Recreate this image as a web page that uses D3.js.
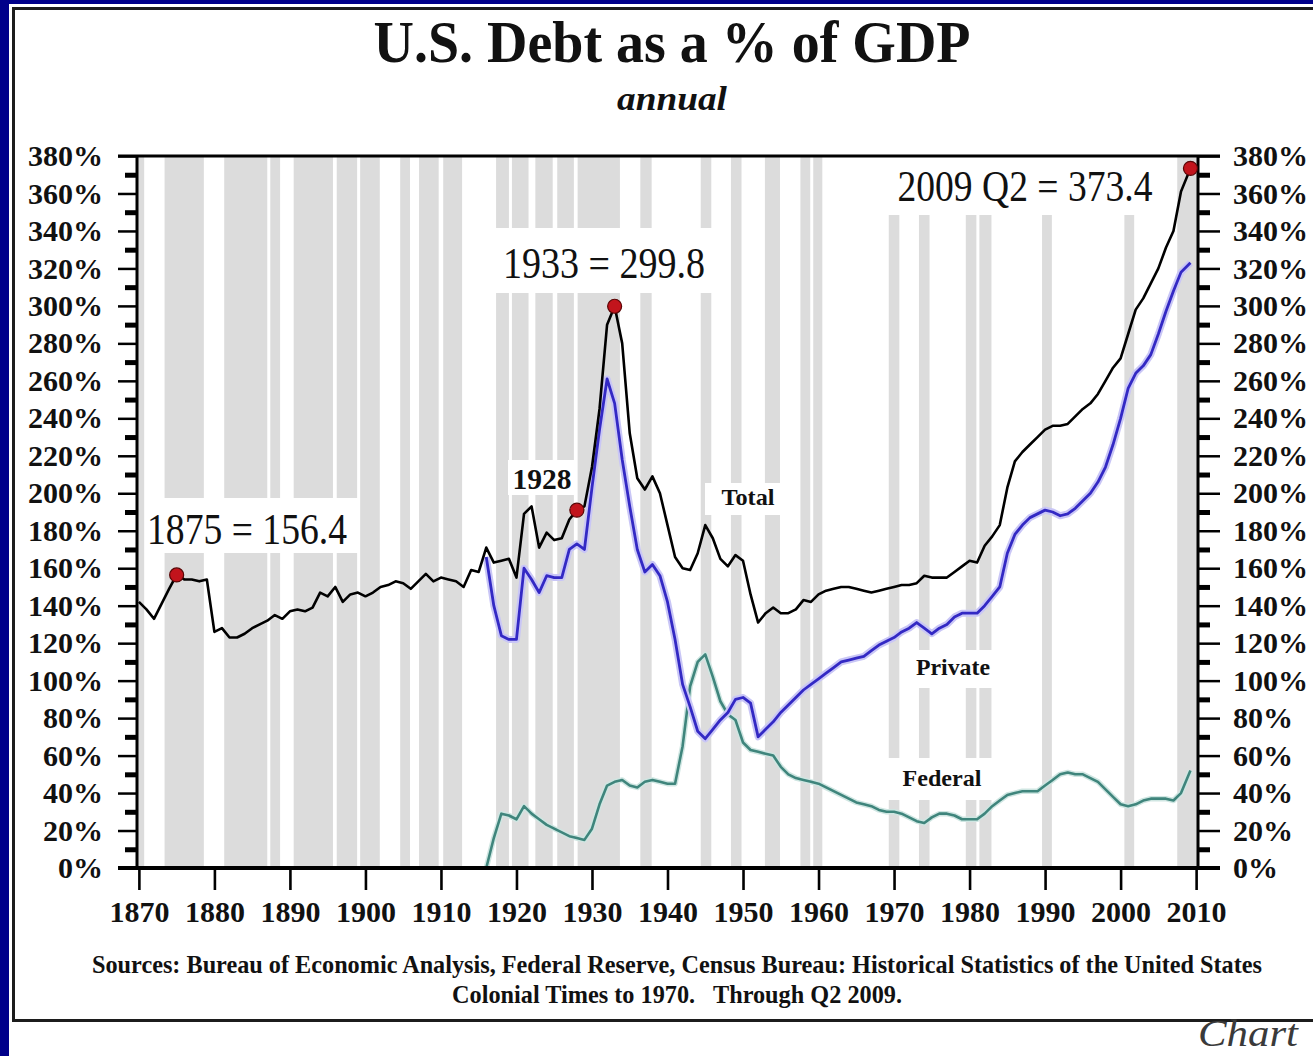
<!DOCTYPE html>
<html>
<head>
<meta charset="utf-8">
<script src="https://cdn.jsdelivr.net/npm/d3@7"></script>
<style>
  html, body { margin: 0; padding: 0; background: #fff; overflow: hidden; }
  svg { display: block; }
  text { font-family: "Liberation Serif", "Times New Roman", serif; fill: #111; }
</style>
</head>
<body>
<svg id="chart"></svg>
<script>
// ---- data (% of GDP) ----
var totalStart = 1870;
var totalValues = [
  142, 138, 133, 141, 149, 156.4, 154, 154, 153, 154,   // 1870s
  126, 128, 123, 123, 125, 128, 130, 132, 135, 133,     // 1880s
  137, 138, 137, 139, 147, 145, 150, 142, 146, 147,     // 1890s
  145, 147, 150, 151, 153, 152, 149, 153, 157, 153,     // 1900s
  155, 154, 153, 150, 159, 158, 171, 163, 164, 165,     // 1910s
  155, 189, 193, 171, 179, 175, 176, 186, 191, 193,     // 1920s
  214, 245, 290, 299.8, 280, 232, 208, 202, 209, 200,   // 1930s
  183, 166, 160, 159, 168, 183, 176, 165, 161, 167,     // 1940s
  164, 146, 131, 136, 139, 136, 136, 138, 143, 142,     // 1950s
  146, 148, 149, 150, 150, 149, 148, 147, 148, 149,     // 1960s
  150, 151, 151, 152, 156, 155, 155, 155, 158, 161,     // 1970s
  164, 163, 172, 177, 183, 203, 217, 222, 226, 230,     // 1980s
  234, 236, 236, 237, 241, 245, 248, 253, 260, 267,     // 1990s
  272, 285, 298, 304, 312, 320, 331, 340, 361           // 2000-2008
];
var privateStart = 1916;
var privateValues = [
  166, 140, 124, 122,                                   // 1916-1919
  122, 160, 154, 147, 156, 155, 155, 170, 173, 170,     // 1920s
  203, 234, 261, 248, 218, 193, 170, 158, 162, 156,     // 1930s
  142, 122, 98, 86, 73, 69, 74, 79, 83, 90,             // 1940s
  91, 88, 70, 74, 78, 83, 87, 91, 95, 98,               // 1950s
  101, 104, 107, 110, 111, 112, 113, 116, 119, 121,     // 1960s
  123, 126, 128, 131, 128, 125, 128, 130, 134, 136,     // 1970s
  136, 136, 140, 145, 150, 168, 178, 183, 187, 189,     // 1980s
  191, 190, 188, 189, 192, 196, 200, 206, 214, 226,     // 1990s
  240, 256, 264, 268, 274, 285, 297, 308, 318           // 2000-2008
];
var federalStart = 1916;
var federalValues = [
  0, 16, 29, 28,                                        // 1916-1919
  26, 33, 29, 26, 23, 21, 19, 17, 16, 15,               // 1920s
  21, 34, 44, 46, 47, 44, 43, 46, 47, 46,               // 1930s
  45, 45, 65, 97, 110, 114, 102, 89, 82, 79,            // 1940s
  67, 63, 62, 61, 60, 54, 50, 48, 47, 46,               // 1950s
  45, 43, 41, 39, 37, 35, 34, 33, 31, 30,               // 1960s
  30, 29, 27, 25, 24, 27, 29, 29, 28, 26,               // 1970s
  26, 26, 29, 33, 36, 39, 40, 41, 41, 41,               // 1980s
  44, 47, 50, 51, 50, 50, 48, 46, 42, 38,               // 1990s
  34, 33, 34, 36, 37, 37, 37, 36, 40                    // 2000-2008
];
// last observation is 2009 Q2
var lastPeriod = 2009.25;
var lastTotal = 373.4, lastPrivate = 323, lastFederal = 52;

// recessions (shaded years)
var recessionStart = [1869.7, 1873.4, 1881.3, 1887.4, 1890.5, 1896.2, 1899.3, 1904.6, 1907.1, 1910.3,
  1917.3, 1919.4, 1922.5, 1925.4, 1928.1, 1936.4, 1944.4, 1948.4, 1952.9, 1957.6, 1959.3,
  1969.3, 1973.3, 1979.5, 1981.3, 1989.6, 2000.5, 2007.5];
var recessionEnd = [1870.7, 1878.6, 1887.0, 1888.7, 1895.7, 1898.9, 1901.9, 1905.9, 1909.7, 1912.8,
  1919.0, 1921.6, 1924.8, 1927.6, 1933.7, 1937.9, 1945.8, 1949.8, 1954.9, 1958.9, 1960.5,
  1970.7, 1974.7, 1980.9, 1982.9, 1990.9, 2001.8, 2010.25];

// highlighted points on the total line
var highlightYears = [1875, 1928, 1933, 2009.25];

var yTicks = [0, 20, 40, 60, 80, 100, 120, 140, 160, 180, 200, 220, 240, 260, 280, 300, 320, 340, 360, 380];
var xTicks = [1870, 1880, 1890, 1900, 1910, 1920, 1930, 1940, 1950, 1960, 1970, 1980, 1990, 2000, 2010];

// build [year, value] series
function series(start, values, last) {
  var pts = values.map(function(v, i) { return [start + i, v]; });
  pts.push([lastPeriod, last]);
  return pts;
}
var totalData = series(totalStart, totalValues, lastTotal);
var privateData = series(privateStart, privateValues, lastPrivate);
var federalData = series(federalStart, federalValues, lastFederal);

// ---- layout ----
var svgWidth = 1313, svgHeight = 1056;
var plot = { left: 137, right: 1198, top: 156, bottom: 868 };

var svg = d3.select("#chart")
  .attr("width", svgWidth)
  .attr("height", svgHeight);

// page frame
svg.append("rect").attr("width", svgWidth).attr("height", svgHeight).attr("fill", "#fff");
svg.append("rect").attr("x", 0).attr("y", 0).attr("width", 9).attr("height", svgHeight).attr("fill", "#00008a");
svg.append("rect").attr("x", 0).attr("y", 0).attr("width", svgWidth).attr("height", 4).attr("fill", "#00008a");
svg.append("rect")
  .attr("x", 13.5).attr("y", 8.5)
  .attr("width", svgWidth + 40).attr("height", 1012)
  .attr("fill", "#fff")
  .attr("stroke", "#1c1c1c")
  .attr("stroke-width", 3);

var x = d3.scaleLinear().domain([1869.75, 2010.25]).range([plot.left, plot.right]);
var y = d3.scaleLinear().domain([0, 380]).range([plot.bottom, plot.top]);

// recession shading
svg.append("g").selectAll("rect")
  .data(d3.zip(recessionStart, recessionEnd))
  .join("rect")
  .attr("x", function(d) { return x(d[0]); })
  .attr("width", function(d) { return x(d[1]) - x(d[0]); })
  .attr("y", plot.top)
  .attr("height", plot.bottom - plot.top)
  .attr("fill", "#dcdcdc");

// annotation boxes (white backing over the shading)
var notes = [
  { text: "1875 = 156.4",    box: [146, 498, 214, 55], cx: 247,  cy: 528, size: 45, len: 200, bold: false },
  { text: "1933 = 299.8",    box: [493, 228, 227, 65], cx: 604,  cy: 262, size: 45, len: 202, bold: false },
  { text: "2009 Q2 = 373.4", box: [880, 157, 295, 58], cx: 1025, cy: 186, size: 44, len: 255, bold: false },
  { text: "1928",            box: [508, 460, 68, 35],  cx: 542,  cy: 478, size: 30, len: 59,  bold: true },
  { text: "Total",           box: [705, 483, 77, 32],  cx: 748,  cy: 497, size: 24, len: 53,  bold: true },
  { text: "Private",         box: [908, 650, 88, 38],  cx: 953,  cy: 667, size: 24, len: 74,  bold: true },
  { text: "Federal",         box: [888, 758, 112, 42], cx: 942,  cy: 778, size: 24, len: 79,  bold: true }
];
svg.append("g").selectAll("rect")
  .data(notes)
  .join("rect")
  .attr("x", function(d) { return d.box[0]; })
  .attr("y", function(d) { return d.box[1]; })
  .attr("width", function(d) { return d.box[2]; })
  .attr("height", function(d) { return d.box[3]; })
  .attr("fill", "#fff");

// lines
var line = d3.line()
  .x(function(d) { return x(d[0]); })
  .y(function(d) { return y(d[1]); });

var lines = svg.append("g").attr("fill", "none").attr("stroke-linejoin", "round");
lines.append("path").datum(federalData).attr("d", line)
  .attr("stroke", "#cfe6e2").attr("stroke-width", 5.5);
lines.append("path").datum(federalData).attr("d", line)
  .attr("stroke", "#3f857c").attr("stroke-width", 2.6);
lines.append("path").datum(privateData).attr("d", line)
  .attr("stroke", "#c9c6f6").attr("stroke-width", 7);
lines.append("path").datum(privateData).attr("d", line)
  .attr("stroke", "#3329c4").attr("stroke-width", 2.8);
lines.append("path").datum(totalData).attr("d", line)
  .attr("stroke", "#000").attr("stroke-width", 2.6);

// annotation text
svg.append("g").selectAll("text")
  .data(notes)
  .join("text")
  .attr("x", function(d) { return d.cx; })
  .attr("y", function(d) { return d.cy; })
  .attr("dy", "0.35em")
  .attr("text-anchor", "middle")
  .attr("font-size", function(d) { return d.size; })
  .attr("font-weight", function(d) { return d.bold ? "bold" : "normal"; })
  .attr("textLength", function(d) { return d.len; })
  .attr("lengthAdjust", "spacingAndGlyphs")
  .text(function(d) { return d.text; });

// axes
function styleTicks(g, width) {
  g.select(".domain").remove();
  g.selectAll(".tick line").attr("stroke", "#000").attr("stroke-width", width);
  g.selectAll(".tick text")
    .attr("fill", "#111")
    .attr("font-size", 30)
    .attr("font-weight", "bold")
    .attr("font-family", '"Liberation Serif", "Times New Roman", serif');
}
var minorTicks = d3.range(10, 380, 20);

svg.append("g")
  .attr("transform", "translate(" + plot.left + ",0)")
  .call(d3.axisLeft(y).tickValues(minorTicks).tickSize(12).tickFormat(""))
  .call(styleTicks, 5);
svg.append("g")
  .attr("transform", "translate(" + plot.left + ",0)")
  .call(d3.axisLeft(y).tickValues(yTicks).tickSize(19).tickPadding(15).tickFormat(function(d) { return d + "%"; }))
  .call(styleTicks, 2.5);

svg.append("g")
  .attr("transform", "translate(" + plot.right + ",0)")
  .call(d3.axisRight(y).tickValues(minorTicks).tickSize(12).tickFormat(""))
  .call(styleTicks, 5);
svg.append("g")
  .attr("transform", "translate(" + plot.right + ",0)")
  .call(d3.axisRight(y).tickValues(yTicks).tickSize(22).tickPadding(13).tickFormat(function(d) { return d + "%"; }))
  .call(styleTicks, 2.5);

svg.append("g")
  .attr("transform", "translate(0," + plot.bottom + ")")
  .call(d3.axisBottom(x).tickValues(xTicks).tickSize(22).tickPadding(11).tickFormat(d3.format("d")))
  .call(styleTicks, 2.6);

// plot frame
var frame = svg.append("g").attr("stroke", "#000").attr("fill", "none");
frame.append("line").attr("x1", plot.left - 19).attr("x2", plot.right + 22)
  .attr("y1", plot.top).attr("y2", plot.top).attr("stroke-width", 3);
frame.append("line").attr("x1", plot.left - 19).attr("x2", plot.right + 22)
  .attr("y1", plot.bottom).attr("y2", plot.bottom).attr("stroke-width", 4);
frame.append("line").attr("x1", plot.left).attr("x2", plot.left)
  .attr("y1", plot.top).attr("y2", plot.bottom).attr("stroke-width", 3);
frame.append("line").attr("x1", plot.right).attr("x2", plot.right)
  .attr("y1", plot.top).attr("y2", plot.bottom).attr("stroke-width", 3);

// highlighted points
var totalByYear = new Map(totalData.map(function(d) { return [d[0], d[1]]; }));
svg.append("g").selectAll("circle")
  .data(highlightYears)
  .join("circle")
  .attr("cx", function(d) { return x(d); })
  .attr("cy", function(d) { return y(totalByYear.get(d)); })
  .attr("r", 7)
  .attr("fill", "#c2141c")
  .attr("stroke", "#5a0606")
  .attr("stroke-width", 1.2);

// titles
svg.append("text")
  .attr("x", 672).attr("y", 62)
  .attr("text-anchor", "middle")
  .attr("font-size", 60)
  .attr("font-weight", "bold")
  .attr("textLength", 597)
  .attr("lengthAdjust", "spacingAndGlyphs")
  .text("U.S. Debt as a % of GDP");
svg.append("text")
  .attr("x", 672).attr("y", 110)
  .attr("text-anchor", "middle")
  .attr("font-size", 34)
  .attr("font-weight", "bold")
  .attr("font-style", "italic")
  .attr("textLength", 110)
  .attr("lengthAdjust", "spacingAndGlyphs")
  .text("annual");

// sources
svg.append("text")
  .attr("x", 677).attr("y", 973)
  .attr("text-anchor", "middle")
  .attr("font-size", 25)
  .attr("font-weight", "bold")
  .attr("textLength", 1170)
  .attr("lengthAdjust", "spacingAndGlyphs")
  .text("Sources: Bureau of Economic Analysis, Federal Reserve, Census Bureau: Historical Statistics of the United States");
svg.append("text")
  .attr("x", 677).attr("y", 1003)
  .attr("text-anchor", "middle")
  .attr("font-size", 25)
  .attr("font-weight", "bold")
  .attr("textLength", 450)
  .attr("lengthAdjust", "spacingAndGlyphs")
  .attr("xml:space", "preserve")
  .text("Colonial Times to 1970.   Through Q2 2009.");

svg.append("text")
  .attr("x", 1198).attr("y", 1046)
  .attr("font-size", 38)
  .attr("font-style", "italic")
  .attr("textLength", 100)
  .attr("lengthAdjust", "spacingAndGlyphs")
  .style("fill", "#3a3a3a")
  .text("Chart");
</script>
</body>
</html>
